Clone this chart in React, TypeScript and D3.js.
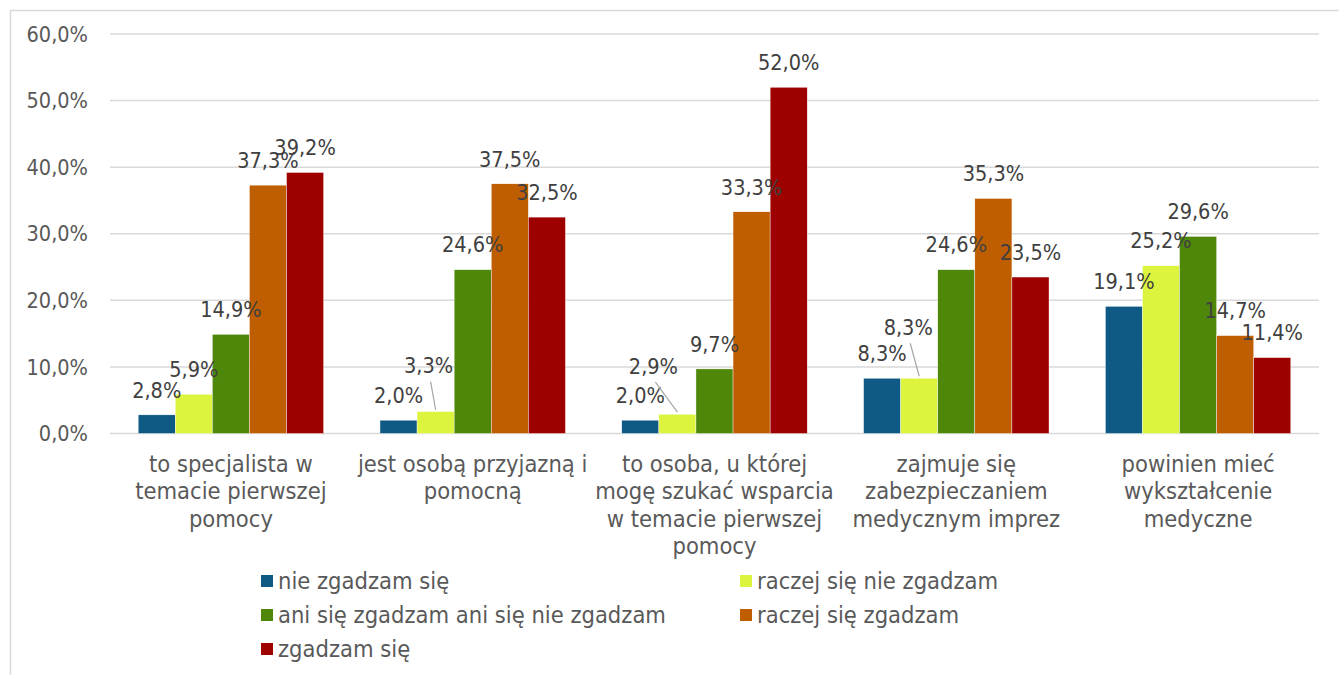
import React from 'react';
import * as d3 from 'd3';

const categories = [
  ['to specjalista w', 'temacie pierwszej', 'pomocy'],
  ['jest osobą przyjazną i', 'pomocną'],
  ['to osoba, u której', 'mogę szukać wsparcia', 'w temacie pierwszej', 'pomocy'],
  ['zajmuje się', 'zabezpieczaniem', 'medycznym imprez'],
  ['powinien mieć', 'wykształcenie', 'medyczne'],
];

const seriesNames = [
  'nie zgadzam się',
  'raczej się nie zgadzam',
  'ani się zgadzam ani się nie zgadzam',
  'raczej się zgadzam',
  'zgadzam się',
];

// one array per series, one value per category
const nieZgadzam = [2.8, 2.0, 2.0, 8.3, 19.1];
const raczejNie = [5.9, 3.3, 2.9, 8.3, 25.2];
const ani = [14.9, 24.6, 9.7, 24.6, 29.6];
const raczejTak = [37.3, 37.5, 33.3, 35.3, 14.7];
const zgadzam = [39.2, 32.5, 52.0, 23.5, 11.4];

const yTicks = [0, 10, 20, 30, 40, 50, 60];

const colors = ['#0f5a85', '#dcf43e', '#4e870a', '#bf5e00', '#9e0000'];

// manual label nudges (category index, series index) -> dx, dy
const labelNudge: Record<string, [number, number]> = {
  '1-1': [-7, -21],
  '2-1': [-24, -23],
  '3-1': [-11, -26],
};

const fmt = (v: number) => v.toFixed(1).replace('.', ',') + '%';

const FONT = "'DejaVu Sans Condensed', 'DejaVu Sans', sans-serif";

export default function App() {
  const W = 1339;
  const H = 675;
  const left = 110;
  const right = 1319;
  const top = 34;
  const bottom = 433.5;

  const values = [nieZgadzam, raczejNie, ani, raczejTak, zgadzam];

  const x0 = d3.scaleBand<number>()
    .domain(categories.map((_, i) => i))
    .range([left, right])
    .padding(0);

  const x1 = d3.scaleBand<number>()
    .domain(seriesNames.map((_, i) => i))
    .range([0, x0.bandwidth()])
    .paddingInner(0)
    .paddingOuter(0.76);

  const y = d3.scaleLinear().domain([0, 60]).range([bottom, top]);

  return (
    <svg width={W} height={H} style={{ position: 'absolute', left: 0, top: 0, background: '#fff' }}
      fontFamily={FONT}>
      <rect x={10.5} y={10.5} width={W} height={H} fill="#fff" stroke="#d9d9d9" strokeWidth={1.5} />

      {/* grid + y axis */}
      {yTicks.map(t => (
        <g key={t}>
          <line x1={left} x2={right} y1={y(t)} y2={y(t)} stroke="#d9d9d9" strokeWidth={1.5} />
          <text x={88} y={y(t)} dy="0.36em" textAnchor="end" fontSize={21.5} fill="#595959">
            {fmt(t)}
          </text>
        </g>
      ))}

      {/* bars */}
      {categories.map((_, ci) => (
        <g key={ci} transform={`translate(${x0(ci)},0)`}>
          {values.map((arr, si) => (
            <rect key={si} x={x1(si)} y={y(arr[ci])} width={x1.bandwidth()}
              height={bottom - y(arr[ci])} fill={colors[si]} stroke="#fff" strokeWidth={0.4} />
          ))}
        </g>
      ))}

      {/* data labels */}
      {categories.map((_, ci) => values.map((arr, si) => {
        const cx = (x0(ci) ?? 0) + (x1(si) ?? 0) + x1.bandwidth() / 2;
        const barTop = y(arr[ci]);
        const nudge = labelNudge[`${ci}-${si}`];
        const lx = cx + (nudge ? nudge[0] : 0);
        const ly = barTop - 25 + (nudge ? nudge[1] : 0);
        return (
          <g key={`${ci}-${si}`}>
            {nudge && (
              <line x1={lx + 2} y1={ly + 16} x2={cx} y2={barTop - 2} stroke="#a6a6a6" strokeWidth={1.2} />
            )}
            <text x={lx} y={ly} dy="0.36em" textAnchor="middle" fontSize={21.5} fill="#404040">
              {fmt(arr[ci])}
            </text>
          </g>
        );
      }))}

      {/* category labels */}
      {categories.map((lines, ci) => (
        <text key={ci} x={(x0(ci) ?? 0) + x0.bandwidth() / 2} y={472} textAnchor="middle"
          fontSize={23.5} fill="#595959">
          {lines.map((l, li) => (
            <tspan key={li} x={(x0(ci) ?? 0) + x0.bandwidth() / 2} dy={li === 0 ? 0 : 27.4}>{l}</tspan>
          ))}
        </text>
      ))}

      {/* legend */}
      {seriesNames.map((name, si) => {
        const col = si % 2;
        const row = Math.floor(si / 2);
        const lx = col === 0 ? 261 : 740;
        const ly = 581 + row * 34;
        return (
          <g key={si}>
            <rect x={lx} y={ly - 6} width={12} height={12} fill={colors[si]} />
            <text x={lx + 17} y={ly} dy="0.36em" fontSize={23.5} fill="#595959">{name}</text>
          </g>
        );
      })}
    </svg>
  );
}
